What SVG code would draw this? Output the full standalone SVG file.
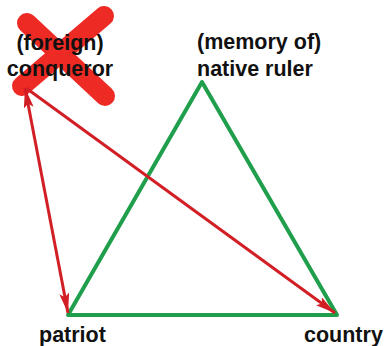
<svg xmlns="http://www.w3.org/2000/svg" width="387" height="346" viewBox="0 0 387 346">
<style>
.lbl{font-family:"Liberation Sans",Arial,sans-serif;font-weight:bold;font-size:21.5px;fill:#111}
.x{stroke:#ee2a24;stroke-width:20;stroke-linecap:round;fill:none}
.tri{stroke:#1f9e4c;stroke-width:4;fill:none;stroke-linejoin:round}
.arr{stroke:#d21f26;stroke-width:3;fill:none}
</style>
<defs>
<marker id="ah" viewBox="0 0 20 10" refX="20" refY="5" markerWidth="20" markerHeight="10" markerUnits="userSpaceOnUse" orient="auto-start-reverse">
<path d="M0,0 L20,5 L0,10 L4,5 Z" fill="#d21f26"/>
</marker>
</defs>
<rect width="387" height="346" fill="#fff"/>
<g id="cross">
<line class="x" x1="27" y1="23" x2="105" y2="96"/>
<line class="x" x1="104" y1="16" x2="22" y2="86"/>
</g>
<g id="triangle">
<polygon class="tri" points="202,82 68,315 337,315"/>
</g>
<g id="connectors">
<line class="arr" x1="25" y1="88" x2="68" y2="313" marker-start="url(#ah)" marker-end="url(#ah)"/>
<line class="arr" x1="26" y1="88" x2="335" y2="313" marker-end="url(#ah)"/>
</g>
<g id="conqueror">
<text class="lbl" x="60" y="50" text-anchor="middle">(foreign)</text>
<text class="lbl" x="60" y="76" text-anchor="middle">conqueror</text>
</g>
<g id="native-ruler">
<text class="lbl" x="197" y="49">(memory of)</text>
<text class="lbl" x="197" y="76">native ruler</text>
</g>
<g id="patriot">
<text class="lbl" x="39" y="342">patriot</text>
</g>
<g id="country">
<text class="lbl" x="304" y="342">country</text>
</g>
</svg>
